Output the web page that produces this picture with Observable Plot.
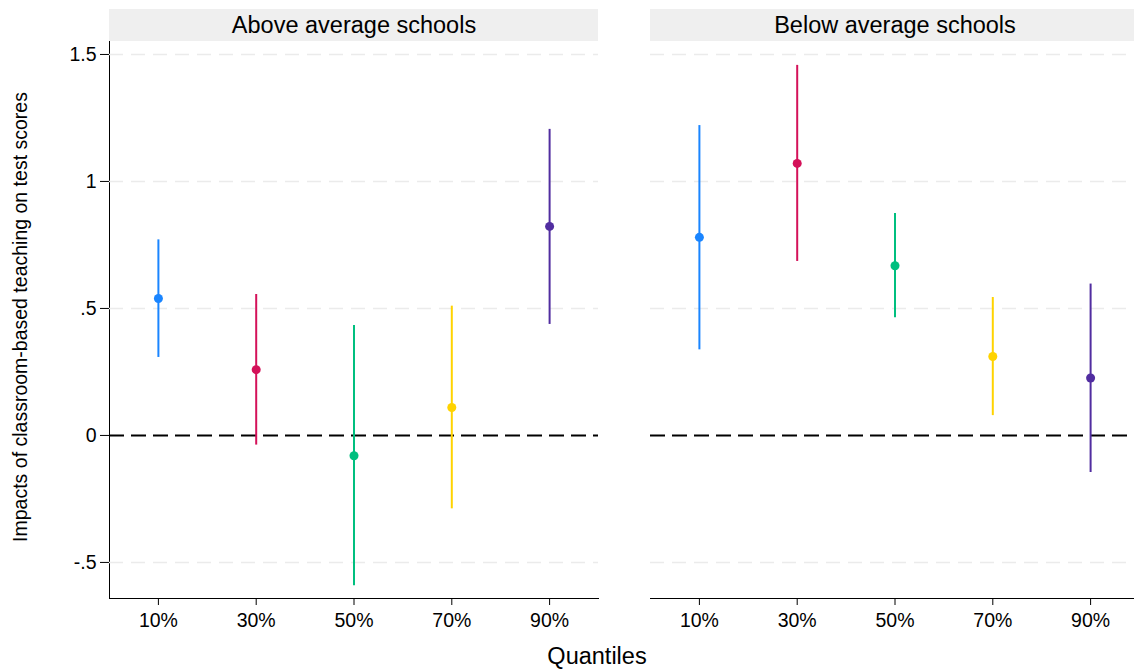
<!DOCTYPE html>
<html>
<head>
<meta charset="utf-8">
<script src="https://cdn.jsdelivr.net/npm/d3@7"></script>
<script src="https://cdn.jsdelivr.net/npm/@observablehq/plot@0.6"></script>
<style>
  html, body { margin: 0; padding: 0; background: #fff; overflow: hidden; }
  #wrap { position: relative; width: 1134px; height: 670px; overflow: hidden;
          font-family: "Liberation Sans", Arial, Helvetica, sans-serif; color: #000; }
  #chart { position: absolute; left: 0; top: 0; width: 1139px; height: 670px; }
  #chart svg { max-width: none !important; }
  .ylab { position: absolute; left: 20px; top: 317px; white-space: nowrap;
          transform: translate(-50%, -50%) rotate(-90deg); font-size: 19.5px; }
  .xlab { position: absolute; left: 597px; top: 656px; white-space: nowrap;
          transform: translate(-50%, -50%); font-size: 23.5px; }
</style>
</head>
<body>
<div id="wrap">
  <div id="chart"></div>
  <div class="ylab">Impacts of classroom-based teaching on test scores</div>
  <div class="xlab">Quantiles</div>
</div>
<script>
// ---- Data ----
const quantiles = ["10%", "30%", "50%", "70%", "90%"];
const panels = ["Above average schools", "Below average schools"];

const aboveEst = [0.539, 0.259, -0.080, 0.110, 0.823];
const aboveLo  = [0.307, -0.038, -0.592, -0.289, 0.437];
const aboveHi  = [0.770, 0.555, 0.433, 0.509, 1.205];

const belowEst = [0.780, 1.071, 0.668, 0.311, 0.226];
const belowLo  = [0.337, 0.685, 0.463, 0.078, -0.146];
const belowHi  = [1.220, 1.457, 0.874, 0.543, 0.596];

const quantileColors = ["#1a85ff", "#d41159", "#00bf7f", "#ffd300", "#512da0"];

const yTicks = [-0.5, 0, 0.5, 1, 1.5];
const yTickLabels = ["-.5", "0", ".5", "1", "1.5"];
const yDomain = [-0.642, 1.551];

// ---- Table built from the arrays ----
const rows = [];
quantiles.forEach((q, i) => {
  rows.push({panel: panels[0], q, est: aboveEst[i], lo: aboveLo[i], hi: aboveHi[i]});
});
quantiles.forEach((q, i) => {
  rows.push({panel: panels[1], q, est: belowEst[i], lo: belowLo[i], hi: belowHi[i]});
});

const gridTicks = yTicks.filter(d => d !== 0);

const chart = Plot.plot({
  width: 1139,
  height: 670,
  marginTop: 41,
  marginBottom: 72,
  marginLeft: 109,
  marginRight: 0,
  style: {
    fontFamily: '"Liberation Sans", Arial, Helvetica, sans-serif',
    fontSize: "19.5px",
    color: "#000",
    background: "transparent"
  },
  fx: {domain: panels, paddingInner: 52 / 541, paddingOuter: 0, round: false, axis: null},
  x: {type: "point", domain: quantiles, padding: 0.5, round: false, label: null, tickSize: 7, tickPadding: 8, line: true},
  y: {
    domain: yDomain,
    ticks: yTicks,
    tickFormat: d => yTickLabels[yTicks.indexOf(d)],
    tickSize: 9,
    tickPadding: 4,
    label: null,
    line: true
  },
  color: {domain: quantiles, range: quantileColors},
  marks: [
    Plot.rect(panels, {fx: d => d, fill: "#efefef", insetTop: -32, insetBottom: 557}),
    Plot.text(panels, {fx: d => d, text: d => d, frameAnchor: "top", lineAnchor: "middle", dy: -16, fontSize: 23.5, fill: "#000"}),
    Plot.ruleY(gridTicks, {stroke: "#ebebeb", strokeWidth: 1.5, strokeDasharray: "14,8"}),
    Plot.ruleY([0], {stroke: "#000", strokeWidth: 2, strokeDasharray: "15,7"}),
    Plot.ruleX(rows, {fx: "panel", x: "q", y1: "lo", y2: "hi", stroke: "q", strokeWidth: 2}),
    Plot.dot(rows, {fx: "panel", x: "q", y: "est", fill: "q", r: 4.5})
  ]
});

document.getElementById("chart").appendChild(chart);
</script>
</body>
</html>
